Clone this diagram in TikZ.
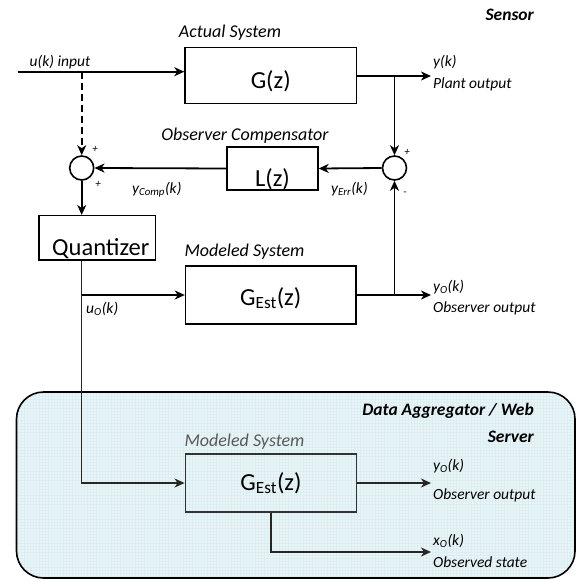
\documentclass[tikz,border=0pt]{standalone}
\usepackage{fontspec}
\setmainfont{Carlito}
\usepackage{tikz}
\usetikzlibrary{arrows.meta}
\definecolor{servbg}{HTML}{E9F5F8}
\definecolor{servgrid}{HTML}{DDEEF3}

\begin{document}
\begin{tikzpicture}[x=1pt,y=-1pt,
  sig/.style={draw,line width=1.8pt,-{Stealth[length=10pt,width=9pt,inset=3pt]}},
  wire/.style={draw,line width=1.8pt}]
\tikzstyle{block}=[draw, line width=1.4pt, inner ysep=0pt, text depth=0pt, font=\fontsize{24.5}{28}\selectfont]
\tikzstyle{blocktitle}=[anchor=base, inner sep=0pt, font=\fontsize{18}{20}\selectfont\itshape]
\tikzstyle{lbl}=[anchor=base west, inner sep=0pt, font=\fontsize{15.5}{17}\selectfont\itshape]
\tikzstyle{signlbl}=[inner sep=0pt, font=\fontsize{11}{12}\selectfont\itshape]
\tikzstyle{sumnode}=[draw, circle, line width=1.6pt, minimum size=24pt, inner sep=0pt]

\useasboundingbox (0,0) rectangle (576,582);

% server area
\fill[servbg, rounded corners=27pt] (16.5,392) rectangle (575,578);
\begin{scope}
\clip[rounded corners=27pt] (16.5,392) rectangle (575,578);
\draw[servgrid, line width=0.3pt, step=3pt] (16,392) grid (576,578);
\end{scope}
\draw[line width=1.6pt, rounded corners=27pt] (16.5,392) rectangle (575,578);

% sensor side
\node [anchor=base east, inner sep=0pt, font=\fontsize{17.5}{20}\selectfont\bfseries\itshape] (sensor) at (534,20) {Sensor};
\node [block, minimum width=171.5pt, minimum height=56pt, text height=25pt] (g) at (270.75,75.5) {G(z)};
\node [blocktitle] (gt) at (230,37) {Actual System};
\node [block, minimum width=91pt, minimum height=43pt, text height=35pt] (l) at (272.5,168.5) {L(z)};
\node [blocktitle] (lt) at (245,140) {Observer Compensator};
\node [sumnode] (suml) at (81.7,168) {};
\node [sumnode] (sumr) at (394.5,168) {};
\node [block, minimum width=116.7pt, minimum height=44.3pt, text height=34.4pt] (q) at (97.3,237.8) {\hspace{7pt}Quantizer};
\node [block, minimum width=170.5pt, minimum height=58pt, text height=20pt] (ge) at (270.75,295) {G\textsubscript{Est}(z)};
\node [blocktitle] (get) at (244.5,256) {Modeled System};

% server side
\node [block, draw=black!80, minimum width=171.5pt, minimum height=58pt, text height=14pt] (ge2) at (271,483) {G\textsubscript{Est}(z)};
\node [blocktitle, text=black!65] (ge2t) at (244.5,446) {Modeled System};
\node [anchor=base east, inner sep=0pt, font=\fontsize{17.5}{20}\selectfont\bfseries\itshape] (serv1) at (534,415) {Data Aggregator / Web};
\node [anchor=base east, inner sep=0pt, font=\fontsize{17.5}{20}\selectfont\bfseries\itshape] (serv2) at (534,442) {Server};

% connectors
\coordinate (in) at (17.5,71.7);
\coordinate (tap) at (81.7,71.7);
\coordinate (yout) at (431,76);
\coordinate (ybr) at (394.5,76);
\coordinate (yoout) at (431,295);
\coordinate (yo2out) at (431,483);
\coordinate (xoout) at (431,552);

\path[sig] (in) -- (in -| g.west);
\path[sig, dash pattern=on 7pt off 4pt] (tap) -- (suml.north);
\path[sig] (g.east |- yout) -- (yout);
\path[sig] (ybr) -- (sumr.north);
\path[sig] (sumr.west) -- (l.east);
\path[sig] (l.west) -- (suml.east);
\path[sig] (suml.south) -- (suml.south |- q.north);
\path[sig] (suml |- ge.west) -- (ge.west);
\path[sig] (ge.east) -- (yoout);
\path[sig] (ybr |- ge.east) -- (sumr.south);
\path[sig, line width=1.5pt, draw=black!85] (suml |- q.south) |- (ge2.west);
\path[sig, line width=1.5pt, draw=black!85] (ge2.east) -- (yo2out);
\path[sig, line width=1.5pt, draw=black!85] (ge2.south) |- (xoout);

% labels
\node [lbl] (ulbl) at (29.5,66) {u(k) input};
\node [lbl] (ylbl) at (433,66) {y(k)};
\node [lbl] (plbl) at (433,88) {Plant output};
\node [lbl] (yclbl) at (132,193) {y\textsubscript{Comp}(k)};
\node [lbl] (yelbl) at (331,193) {y\textsubscript{Err}(k)};
\node [lbl] (uolbl) at (86,313) {u\textsubscript{O}(k)};
\node [lbl] (yolbl) at (433,291) {y\textsubscript{O}(k)};
\node [lbl] (oolbl) at (433,312) {Observer output};
\node [lbl] (yo2lbl) at (433,470) {y\textsubscript{O}(k)};
\node [lbl] (oo2lbl) at (433,499) {Observer output};
\node [lbl] (xolbl) at (433,545) {x\textsubscript{O}(k)};
\node [lbl] (oslbl) at (433,567) {Observed state};
\node [signlbl] (s1) at (95,149) {+};
\node [signlbl] (s2) at (98,184) {+};
\node [signlbl] (s3) at (407,152) {+};
\node [signlbl] (s4) at (405,194) {-};

\end{tikzpicture}
\end{document}
